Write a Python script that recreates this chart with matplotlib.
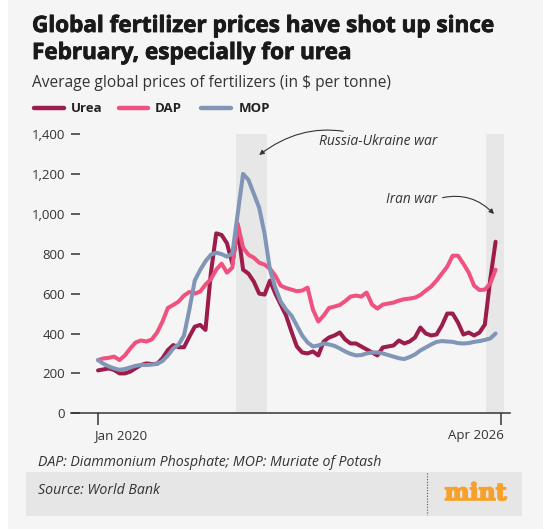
import numpy as np
import matplotlib
matplotlib.use("Agg")
import matplotlib.pyplot as plt
import matplotlib.transforms as mtransforms
import matplotlib.patheffects as pe
from matplotlib.patches import Rectangle
from matplotlib.lines import Line2D

# monthly prices, Jan 2020 .. Mar 2026 ($ per tonne)
urea = [215, 220, 225, 217, 200, 200, 209, 226, 242, 250, 247, 248,
        276, 317, 342, 331, 331, 384, 434, 443, 418, 702, 902, 894,
        852, 750, 925, 720, 700, 660, 600, 595, 665, 600, 545, 490,
        410, 335, 305, 300, 310, 290, 360, 380, 390, 405, 370, 350,
        350, 335, 320, 305, 290, 330, 335, 340, 365, 350, 360, 380,
        430, 400, 390, 395, 440, 500, 500, 455, 395, 405, 390, 405,
        445, 670, 860]
dap = [267, 275, 278, 284, 267, 290, 325, 355, 365, 360, 370, 405,
       460, 528, 543, 560, 590, 608, 600, 610, 645, 672, 720, 750,
       705, 730, 950, 830, 795, 780, 755, 745, 725, 690, 640, 628,
       620, 612, 615, 630, 520, 460, 490, 528, 535, 543, 562, 585,
       590, 585, 605, 545, 525, 545, 550, 555, 565, 572, 575, 580,
       593, 615, 635, 665, 700, 735, 790, 790, 750, 705, 640, 618,
       620, 650, 720]
mop = [267, 248, 235, 225, 218, 222, 230, 238, 242, 242, 244, 248,
       262, 290, 325, 345, 390, 520, 665, 718, 762, 795, 805, 798,
       785, 800, 1000, 1200, 1170, 1100, 1030, 900, 720, 630, 560, 520,
       490, 440, 390, 355, 335, 340, 350, 345, 338, 325, 310, 298,
       290, 292, 300, 305, 305, 300, 292, 284, 276, 272, 282, 295,
       315, 330, 345, 358, 362, 360, 358, 352, 350, 352, 358, 362,
       368, 375, 400]
months = np.arange(len(urea))

series_names = ["Urea", "DAP", "MOP"]
series_colors = ["#9c1c4b", "#f0527f", "#8195b6"]

war_spans = [(25.7, 31.4), (72.3, 75.6)]   # shaded periods, in months from Jan 2020
xtick_pos = [0, 75]
xtick_labels = ["Jan 2020", "Apr 2026"]
ytick_pos = [0, 200, 400, 600, 800, 1000, 1200, 1400]

W, H = 543, 529
BG = "#f5f5f5"
TXT = "#222222"
FONT = "Open Sans"


def fx(px):
    return px / W


def fy(py):
    return 1 - py / H


plt.rcParams["font.family"] = [FONT, "DejaVu Sans"]

fig = plt.figure(figsize=(W / 100, H / 100), dpi=100)
fig.patch.set_facecolor("white")
fig.add_artist(Rectangle((fx(8), 0), 1 - fx(8), 1, transform=fig.transFigure,
                         facecolor=BG, edgecolor="none", zorder=-10))

# titles
heavy = [pe.withStroke(linewidth=0.6, foreground="#1a1a1a")]
fig.text(fx(32), fy(32), "Global fertilizer prices have shot up since",
         fontsize=16.2, fontweight="bold", color="#1a1a1a", va="baseline",
         path_effects=heavy)
fig.text(fx(32), fy(59), "February, especially for urea",
         fontsize=16.2, fontweight="bold", color="#1a1a1a", va="baseline",
         path_effects=heavy)
fig.text(fx(32), fy(87), "Average global prices of fertilizers (in $ per tonne)",
         fontsize=11.2, color="#333333", va="baseline")

# legend
leg_x = [(34, 64, 71), (119, 148, 155), (201, 231, 239)]
for (x0, x1, xt), name, col in zip(leg_x, series_names, series_colors):
    fig.add_artist(Line2D([fx(x0), fx(x1)], [fy(108), fy(108)], transform=fig.transFigure,
                          color=col, lw=3.2, solid_capstyle="round"))
    fig.text(fx(xt), fy(108), name, fontsize=9.5, fontweight="bold",
             color=TXT, va="center")

# chart
ax = fig.add_axes([fx(71), fy(413.3), (510 - 71) / W, (413.3 - 134) / H])
ax.set_facecolor("none")
for s, e in war_spans:
    ax.axvspan(s, e, color="#e7e7e7", lw=0, zorder=0)

for vals, col in zip([urea, dap, mop], series_colors):
    ax.plot(months, vals, color=col, lw=2.9, solid_joinstyle="round",
            solid_capstyle="round", zorder=3)

ax.set_xlim(-5.03, 76.68)
ax.set_ylim(0, 1400)
for side in ["top", "right", "left"]:
    ax.spines[side].set_visible(False)
ax.spines["bottom"].set_color("#333333")
ax.spines["bottom"].set_linewidth(1.1)

ax.set_yticks(ytick_pos)
ax.set_yticklabels([f"{v:,}" for v in ytick_pos])
ax.tick_params(axis="y", direction="in", length=6.5, width=1.1, color="#333333",
               pad=4.3, labelsize=9.5, labelcolor="#333333")
ax.set_xticks(xtick_pos)
ax.set_xticklabels(xtick_labels)
ax.tick_params(axis="x", direction="out", length=8.6, width=1.1, color="#333333",
               pad=3, labelsize=9.5, labelcolor="#333333")
tl = ax.get_xticklabels()
tl[0].set_ha("left")
tl[0].set_transform(tl[0].get_transform() +
                    mtransforms.ScaledTranslation(-4 / 100, 0, fig.dpi_scale_trans))
tl[1].set_ha("right")
tl[1].set_transform(tl[1].get_transform() +
                    mtransforms.ScaledTranslation(3 / 100, 0, fig.dpi_scale_trans))

# annotations
arrow = dict(arrowstyle="-|>", color="#333333", lw=0.8, mutation_scale=7,
             shrinkA=2, shrinkB=0)
ax.annotate("Russia-Ukraine war", xy=(30, 1295), xytext=(41.1, 1360),
            fontsize=10, style="italic", color="#333333", va="center", ha="left",
            arrowprops=dict(arrow, connectionstyle="arc3,rad=0.3"))
ax.annotate("Iran war", xy=(73.7, 999), xytext=(53.6, 1074),
            fontsize=9.8, style="italic", color="#333333", va="center", ha="left",
            arrowprops=dict(arrow, connectionstyle="arc3,rad=-0.3", relpos=(1, 0.5)))

# footer
fig.text(fx(38), fy(462), "DAP: Diammonium Phosphate; MOP: Muriate of Potash",
         fontsize=10.2, style="italic", color="#333333", va="center")
fig.add_artist(Rectangle((fx(26), fy(516)), fx(522) - fx(26), (516 - 472.3) / H,
                         transform=fig.transFigure, facecolor="#e6e6e6",
                         edgecolor="none", zorder=-5))
fig.add_artist(Line2D([fx(427), fx(427)], [fy(473), fy(515)], transform=fig.transFigure,
                      color="#555555", lw=0.8, ls=(0, (1, 1.5))))
fig.text(fx(38), fy(490), "Source: World Bank", fontsize=10.2, style="italic",
         color="#333333", va="center")
fig.text(fx(475.5), fy(493), "mint", fontsize=17, fontweight="bold",
         family="DejaVu Serif", color="#f7a12b", ha="center", va="center",
         path_effects=[pe.withStroke(linewidth=1.2, foreground="#f7a12b")])

fig.savefig("out.png", dpi=100, facecolor=fig.get_facecolor())
